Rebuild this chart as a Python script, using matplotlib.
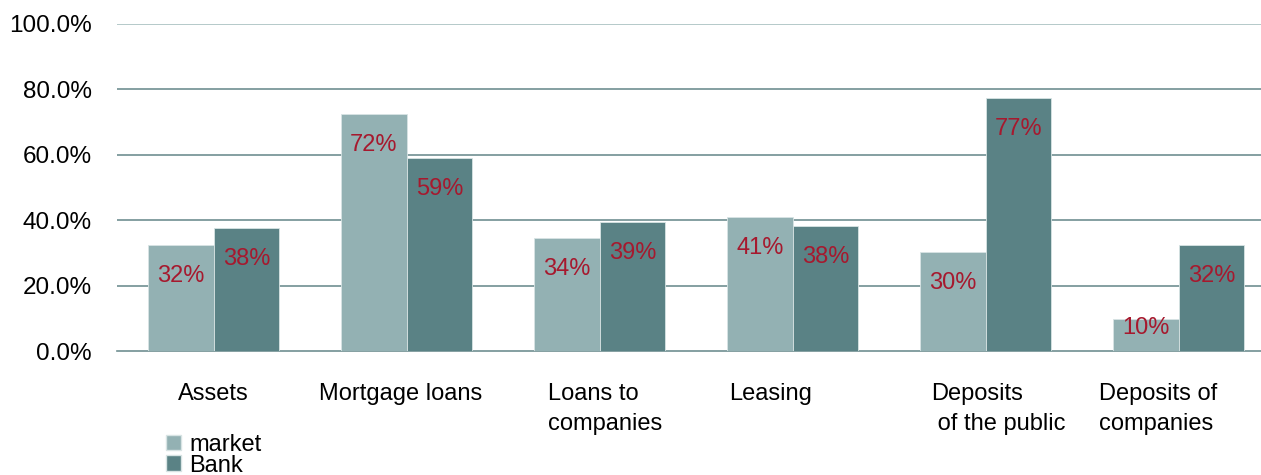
import numpy as np
import matplotlib
matplotlib.use("Agg")
import matplotlib.pyplot as plt
import matplotlib.transforms as mtransforms
from matplotlib.patches import Patch

plt.rcParams["font.family"] = ["Liberation Sans", "DejaVu Sans"]

categories = ["Assets", "Mortgage loans", "Loans to\ncompanies", "Leasing",
              "Deposits\n of the public", "Deposits of\ncompanies"]
market = [32.4, 72.5, 34.5, 41.0, 30.3, 9.8]
bank = [37.6, 59.0, 39.4, 38.2, 77.4, 32.4]
series_names = ["market", "Bank"]
yticks = [0, 20, 40, 60, 80, 100]

c_market = "#93b1b3"
c_bank = "#5a8285"
c_label = "#a6192e"

fig = plt.figure(figsize=(12.61, 4.75), dpi=100)
# the plot area runs past the right edge of the picture, as in the original
ax_h = (351 - 24) / 475
ax = fig.add_axes([117 / 1261, 1 - 351 / 475, 1158 / 1261, ax_h])

x = np.arange(len(categories))
w = 0.34
b1 = ax.bar(x - w / 2, market, w, color=c_market, edgecolor="#d8e4e4", linewidth=0.6, zorder=3)
b2 = ax.bar(x + w / 2, bank, w, color=c_bank, edgecolor="#d8e4e4", linewidth=0.6, zorder=3)

# labels sit inside the top of each bar, pushed up on short bars
bar_px = ax_h * 4.75 * 72  # axes height in points
for bars, vals in ((b1, market), (b2, bank)):
    for rect, v in zip(bars, vals):
        h = v / 100 * bar_px
        off = min(22.5, h - 16.5)
        ax.annotate(f"{v:.0f}%", (rect.get_x() + rect.get_width() / 2, v),
                    xytext=(0, -off), textcoords="offset points",
                    ha="center", va="center", fontsize=17, color=c_label, zorder=4)

ax.set_xlim(-0.5, len(categories) - 0.5)
ax.set_ylim(0, 100)
ax.set_yticks(yticks)
ax.set_yticklabels([f"{t:.1f}%" for t in yticks], fontsize=17.5)
ax.set_xticks(x)
ax.set_xticklabels(categories, fontsize=17, multialignment="left", linespacing=1.5)
ax.tick_params(axis="both", length=0)
ax.tick_params(axis="y", pad=18)
ax.tick_params(axis="x", pad=23)

# small horizontal nudges of the category labels (points)
nudges = [0, -4, 4, -16, 9, -15]
for lbl, dx in zip(ax.get_xticklabels(), nudges):
    lbl.set_transform(lbl.get_transform() + mtransforms.ScaledTranslation(dx / 72, 0, fig.dpi_scale_trans))

for s in ["top", "right", "left"]:
    ax.spines[s].set_visible(False)
ax.spines["bottom"].set_color("#6f8f91")
ax.spines["bottom"].set_linewidth(1.2)

for t in yticks[1:]:
    col = "#a8c0c0" if t == 100 else "#6f8f91"
    ax.axhline(t, color=col, linewidth=1.2, zorder=1)

handles = [Patch(facecolor=c_market, edgecolor="#d8e4e4"), Patch(facecolor=c_bank, edgecolor="#d8e4e4")]
fig.legend(handles, series_names, loc="upper left", bbox_to_anchor=(154 / 1261, 1 - 422 / 475),
           frameon=False, fontsize=17, handlelength=0.65, handleheight=0.65,
           handletextpad=0.35, labelspacing=-0.05, borderpad=0.0)

fig.savefig("out.png", dpi=100)
